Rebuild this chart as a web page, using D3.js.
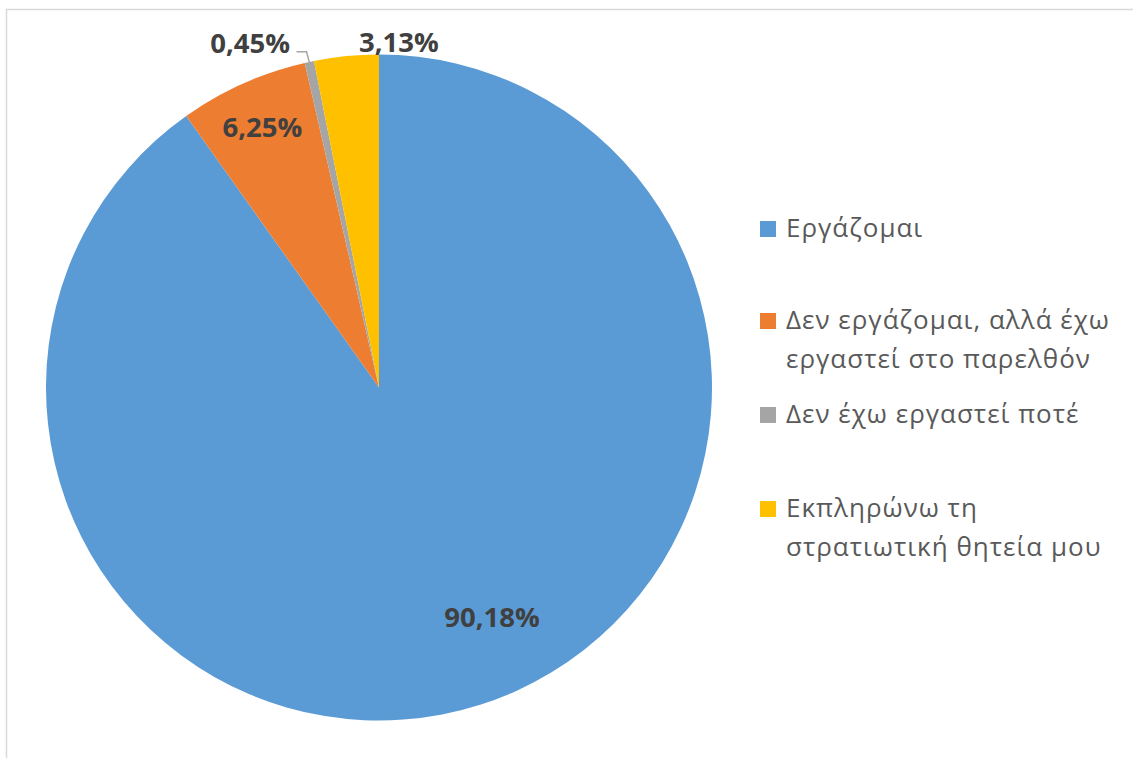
<!DOCTYPE html>
<html><head><meta charset="utf-8">
<script src="https://cdn.jsdelivr.net/npm/d3@7"></script>
<style>html,body{margin:0;padding:0;background:#fff;overflow:hidden}</style>
</head><body><svg id="c" width="1133" height="758"></svg>
<script>
const categories = ["Εργάζομαι", "Δεν εργάζομαι, αλλά έχω εργαστεί στο παρελθόν", "Δεν έχω εργαστεί ποτέ", "Εκπληρώνω τη στρατιωτική θητεία μου"];
const values = [90.18, 6.25, 0.45, 3.13];
const valueLabels = ["90,18%", "6,25%", "0,45%", "3,13%"];
const legendLines = [["Εργάζομαι"], ["Δεν εργάζομαι, αλλά έχω", "εργαστεί στο παρελθόν"], ["Δεν έχω εργαστεί ποτέ"], ["Εκπληρώνω τη", "στρατιωτική θητεία μου"]];
const colors = ["#5B9BD5", "#ED7D31", "#A5A5A5", "#FFC000"];

const svg = d3.select("#c");
svg.append("rect").attr("x", 6.5).attr("y", 9.5).attr("width", 1140).attr("height", 760)
  .attr("fill", "#fff").attr("stroke", "#d9d9d9").attr("stroke-width", 1.5);

const cx = 379, cy = 387.5, R = 333;
const g = svg.append("g").attr("transform", `translate(${cx},${cy})`);
const pie = d3.pie().sort(null).value(d => d)(values);
const arc = d3.arc().innerRadius(0).outerRadius(R);
const color = d3.scaleOrdinal().domain(categories).range(colors);

g.selectAll("path.s").data(pie).join("path").attr("class", "s")
  .attr("d", arc).attr("fill", (d, i) => color(categories[i]));

// label layout: polar (angle deg from top clockwise, radius px)
const labelPolar = [[153.8, 256], null, [-20.5, 368], [3.3, 346]];
const labelFont = "'Open Sans', sans-serif";
pie.forEach((d, i) => {
  let x, y;
  if (labelPolar[i]) {
    const a = labelPolar[i][0] * Math.PI / 180, r = labelPolar[i][1];
    x = r * Math.sin(a); y = -r * Math.cos(a);
  } else {
    [x, y] = d3.arc().innerRadius(R * 0.856).outerRadius(R * 0.856).centroid(d);
  }
  g.append("text").attr("x", x).attr("y", y + 10).attr("text-anchor", "middle")
    .attr("font-family", labelFont).attr("font-weight", 700).attr("font-size", 27.5)
    .attr("fill", "#404040").text(valueLabels[i]);
});

// leader line for the small slice
{
  const d = pie[2];
  const mid = (d.startAngle + d.endAngle) / 2;
  const px = (R - 1) * Math.sin(mid), py = -(R - 1) * Math.cos(mid);
  const ex = px - 3, ey = py - 11;
  g.append("path").attr("d", `M${px},${py}L${ex},${ey}L${ex - 10},${ey}`)
    .attr("fill", "none").attr("stroke", "#a5a5a5").attr("stroke-width", 1.5);
}

// legend
const legendX = 760, lineH = 39;
const legendTop = [237, 329, 423, 517];
legendLines.forEach((lines, i) => {
  svg.append("rect").attr("x", legendX).attr("y", legendTop[i] - 16).attr("width", 16).attr("height", 16)
    .attr("fill", color(categories[i]));
  lines.forEach((t, j) => {
    svg.append("text").attr("x", 786).attr("y", legendTop[i] + j * lineH)
      .attr("font-family", "'Open Sans', sans-serif").attr("font-size", 26).attr("letter-spacing", 1)
      .attr("fill", "#595959").text(t);
  });
});
</script></body></html>
